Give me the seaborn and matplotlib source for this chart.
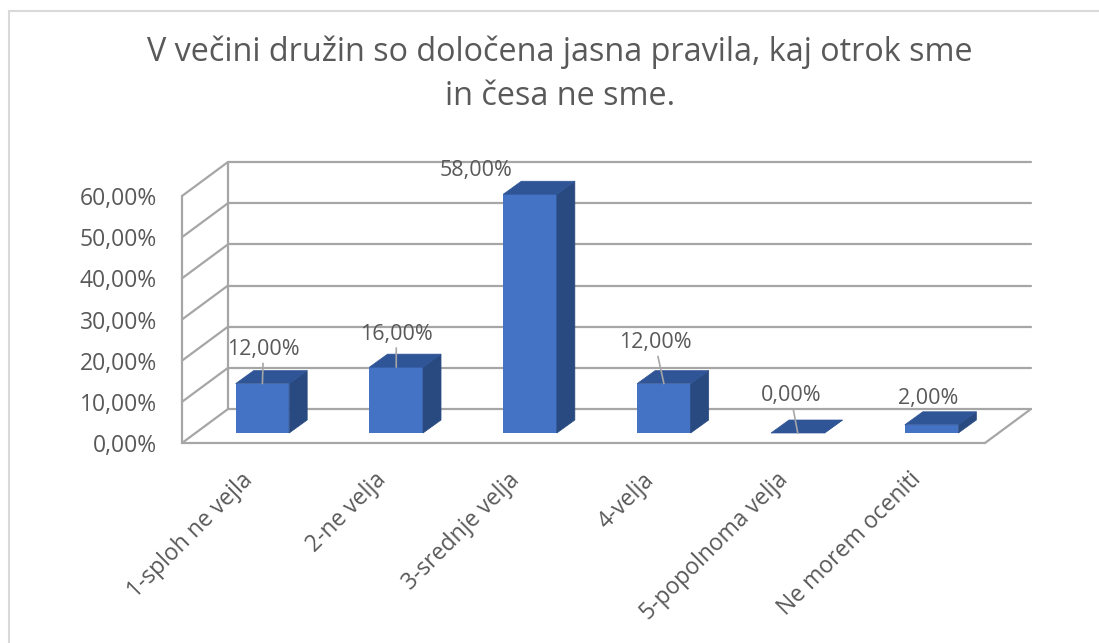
import matplotlib
matplotlib.use("Agg")
import matplotlib.pyplot as plt
import seaborn as sns
import pandas as pd
from matplotlib.patches import Polygon, Rectangle
from matplotlib.lines import Line2D

# ---------------- data ----------------
categories = ["1-sploh ne vejla", "2-ne velja", "3-srednje velja",
              "4-velja", "5-popolnoma velja", "Ne morem oceniti"]
values = [12.0, 16.0, 58.0, 12.0, 0.0, 2.0]
value_labels = ["12,00%", "16,00%", "58,00%", "12,00%", "0,00%", "2,00%"]
y_ticks = [0, 10, 20, 30, 40, 50, 60]
y_tick_labels = ["0,00%", "10,00%", "20,00%", "30,00%", "40,00%", "50,00%", "60,00%"]
title = "V večini družin so določena jasna pravila, kaj otrok sme\nin česa ne sme."

# ---------------- style ----------------
label_offsets_px = [(1, 34), (0, 33), (-54, 24), (-9, 41), (-7, 37), (-3, 26)]
label_leaders = [True, True, False, True, True, False]
FRONT = "#4472C4"
TOP = "#2F5597"
SIDE = "#294A80"
GRID = "#A6A6A6"
TXT = "#595959"

W, H = 1099, 643
sns.set_theme(style="white")
plt.rcParams['font.family'] = ['Open Sans', 'DejaVu Sans']

fig = plt.figure(figsize=(W / 100, H / 100), dpi=100)
fig.patch.set_facecolor("white")

# front plane of the 3D box (pixel placement)
L, R = 182, 985
Y0, Y60 = 443, 196
ax = fig.add_axes([L / W, (H - Y0) / H, (R - L) / W, (Y0 - Y60) / H])
ax.set_facecolor("none")

df = pd.DataFrame({"cat": categories, "val": values})
sns.barplot(data=df, x="cat", y="val", color=FRONT, width=0.40, saturation=1,
            ax=ax, zorder=3, linewidth=0)
ax.set_xlim(-0.5, 5.5)
ax.set_ylim(0, 60)

sx = (R - L) / 6.0
sy = (Y0 - Y60) / 60.0


def px(dx, dy):
    return dx / sx, dy / sy


bar_off = px(13.5, 10)
depth = px(18, 13)
back = px(46, 34)

# walls and floor
lw = 1.6
xl, xr = -0.5, 5.5
for t in y_ticks:
    ax.add_line(Line2D([xl + back[0], xr + back[0]], [t + back[1], t + back[1]],
                       color=GRID, lw=lw, clip_on=False, zorder=1))
    ax.add_line(Line2D([xl, xl + back[0]], [t, t + back[1]],
                       color=GRID, lw=lw, clip_on=False, zorder=1))
ax.add_line(Line2D([xl, xl], [0, 60], color=GRID, lw=lw, clip_on=False, zorder=1))
ax.add_line(Line2D([xl + back[0], xl + back[0]], [back[1], 60 + back[1]],
                   color=GRID, lw=lw, clip_on=False, zorder=1))
ax.add_line(Line2D([xl, xr], [0, 0], color=GRID, lw=lw, clip_on=False, zorder=1))
ax.add_line(Line2D([xr, xr + back[0]], [0, back[1]], color=GRID, lw=lw,
                   clip_on=False, zorder=1))

# turn seaborn's flat bars into 3D blocks
bars = [p for p in ax.patches if isinstance(p, Rectangle)]
for i, p in enumerate(bars):
    x = p.get_x() + bar_off[0]
    w = p.get_width()
    h = p.get_height()
    p.set_x(x)
    p.set_y(bar_off[1])
    p.set_clip_on(False)
    p.set_zorder(3)
    yb = bar_off[1]
    yt = bar_off[1] + h
    dx, dy = depth
    top = Polygon([(x, yt), (x + w, yt), (x + w + dx, yt + dy), (x + dx, yt + dy)],
                  closed=True, facecolor=TOP, edgecolor=TOP, lw=0.5,
                  clip_on=False, zorder=3)
    side = Polygon([(x + w, yb), (x + w, yt), (x + w + dx, yt + dy), (x + w + dx, yb + dy)],
                   closed=True, facecolor=SIDE, edgecolor=SIDE, lw=0.5,
                   clip_on=False, zorder=3)
    ax.add_patch(side)
    ax.add_patch(top)
    ox, oy = label_offsets_px[i]
    arrow = dict(arrowstyle="-", color=GRID, lw=1.2, shrinkA=0, shrinkB=0) if label_leaders[i] else None
    ax.annotate(value_labels[i], xy=(x + w / 2, yt), xytext=(ox, oy),
                textcoords="offset pixels", ha="center", va="center",
                fontsize=15.5, color=TXT, arrowprops=arrow, zorder=4,
                annotation_clip=False)

for s in ax.spines.values():
    s.set_visible(False)

ax.set_yticks(y_ticks)
ax.set_yticklabels(y_tick_labels)
ax.tick_params(axis="y", length=0, pad=18, labelsize=16.5, labelcolor=TXT)
ax.set_xticks(range(len(categories)))
ax.set_xticklabels(categories, rotation=45, ha="right", va="center",
                   rotation_mode="anchor")
ax.tick_params(axis="x", length=0, pad=24, labelsize=16.5, labelcolor=TXT)
ax.set_xlabel("")
ax.set_ylabel("")
ax.grid(False)

fig.text(560 / W, 1 - 74 / H, title, ha="center", va="center", fontsize=23.3,
         color=TXT, linespacing=1.45)

# chart-area border
fig.add_artist(Rectangle((9 / W, -0.1), 1.2, (H - 11) / H + 0.1,
                         transform=fig.transFigure, fill=False,
                         edgecolor="#D9D9D9", lw=1.5, zorder=0))

fig.savefig("out.png", dpi=100)
